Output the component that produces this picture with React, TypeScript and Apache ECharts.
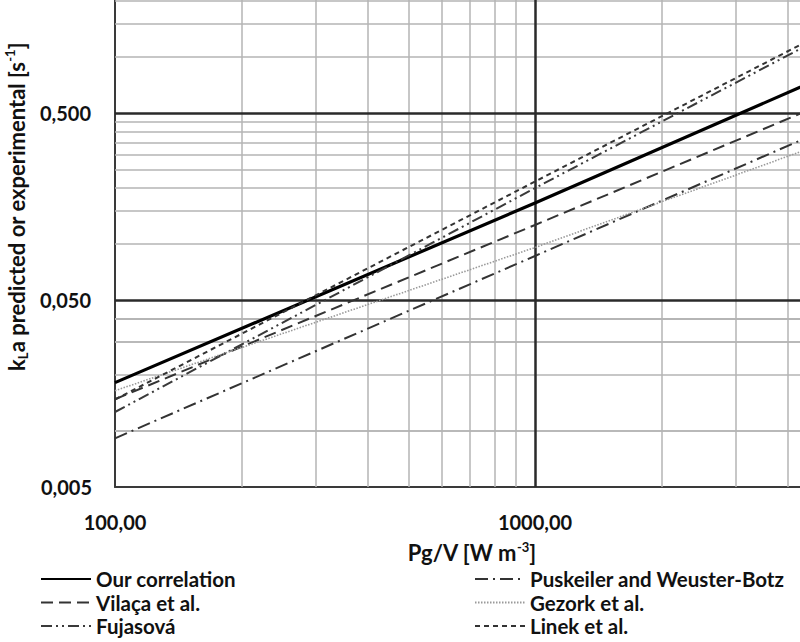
import React, { useEffect, useRef } from "react";
import * as echarts from "echarts";

// Pg/V values where each correlation is read (W m-3)
const xPoints = [100, 1000, 5000];
// kLa values (s-1) at xPoints
const ourCorrelation = [0.0181, 0.1656, 0.804];
const vilaca = [0.01474, 0.1263, 0.577];
const fujasova = [0.0126, 0.199, 1.33];
const puskeiler = [0.00911, 0.0862, 0.417];
const gezork = [0.01638, 0.0957, 0.353];
const linek = [0.0147, 0.2158, 1.392];

const seriesNames = [
  "Our correlation",
  "Vilaça et al.",
  "Fujasová",
  "Puskeiler and Weuster-Botz",
  "Gezork et al.",
  "Linek et al.",
];

// axis ranges / ticks
const xMin = 100;
const xMax = 5000;
const yMin = 0.005;
const yMax = 5;
const yMajor = [0.05, 0.5];
const yMajorLabels = ["0,050", "0,500"];
const yBottomLabel = "0,005";
const xMajor = [1000];
const yDecadeBases = [0.005, 0.05, 0.5];
const xDecadeBases = [100, 1000];
const multipliers = [2, 3, 4, 5, 6, 7, 8, 9];

const FONT = 'Lato, "DejaVu Sans", sans-serif';

export default function App() {
  const ref = useRef<HTMLDivElement>(null);

  useEffect(() => {
    if (!ref.current) return;
    const chart = echarts.init(ref.current, null, { renderer: "svg" });

    const yMinor: number[] = [];
    yDecadeBases.forEach((b) =>
      multipliers.forEach((m) => {
        const v = +(b * m).toPrecision(6);
        if (v < yMax) yMinor.push(v);
      })
    );
    const xMinor: number[] = [];
    xDecadeBases.forEach((b) =>
      multipliers.forEach((m) => {
        const v = b * m;
        if (v < xMax) xMinor.push(v);
      })
    );

    const minorStyle = { color: "#b4b4b4", width: 1.5, type: "solid" as const };
    const majorStyle = { color: "#2a2a2a", width: 2.5, type: "solid" as const };
    const labelStyle = {
      fontFamily: FONT,
      fontWeight: "bold" as const,
      fontSize: 20,
      color: "#111",
    };
    const titleStyle = { ...labelStyle, fontSize: 22 };

    const mk = (name: string, vals: number[], lineStyle: any) => ({
      type: "line",
      name,
      data: xPoints.map((x, i) => [x, vals[i]]),
      symbol: "none",
      showSymbol: false,
      silent: true,
      z: 5,
      lineStyle,
      itemStyle: { color: lineStyle.color },
    });

    const legendCommon = {
      orient: "vertical",
      top: 568,
      padding: 0,
      itemWidth: 50,
      itemHeight: 14,
      itemGap: 1.5,
      height: 80,
      textStyle: { ...labelStyle, fontSize: 20.5, lineHeight: 22 },
      itemStyle: { color: "transparent", opacity: 0, borderWidth: 0 },
      selectedMode: false,
    };

    const option: any = {
      animation: false,
      backgroundColor: "#ffffff",
      grid: {
        left: 115,
        top: -73.5,
        width: 713.6,
        height: 560.5,
        containLabel: false,
        outerBoundsMode: "none",
      },
      xAxis: {
        type: "log",
        logBase: 10,
        min: xMin,
        max: xMax,
        name: "Pg/V [W m{sup|-3}]",
        nameLocation: "middle",
        nameGap: 53,
        nameTextStyle: {
          ...titleStyle,
          lineHeight: 24,
          rich: {
            sup: { ...titleStyle, fontSize: 13, verticalAlign: "top", lineHeight: 24 },
          },
        },
        axisLine: { show: true, lineStyle: { color: "#3a3a3a", width: 2 } },
        axisTick: { show: false },
        splitLine: { show: false },
        minorSplitLine: { show: false },
        axisLabel: {
          ...labelStyle,
          margin: 25,
          showMaxLabel: false,
          formatter: (v: number) => v.toFixed(2).replace(".", ","),
        },
      },
      yAxis: {
        type: "log",
        logBase: 10,
        min: yMin,
        max: yMax,
        name: "k{sub|L}a predicted or experimental [s{sup|-1}]",
        nameLocation: "middle",
        nameGap: 86,
        nameRotate: 90,
        nameTextStyle: {
          ...titleStyle,
          lineHeight: 26,
          rich: {
            sub: { ...titleStyle, fontSize: 13, verticalAlign: "bottom", lineHeight: 26 },
            sup: { ...titleStyle, fontSize: 13, verticalAlign: "top", lineHeight: 26 },
          },
        },
        axisLine: { show: true, lineStyle: { color: "#3a3a3a", width: 2 } },
        axisTick: { show: false },
        splitLine: { show: false },
        axisLabel: {
          ...labelStyle,
          show: true,
          margin: 23,
          showMinLabel: true,
          showMaxLabel: false,
          formatter: (v: number) => (Math.abs(v - yMin) < 1e-9 ? yBottomLabel : ""),
        },
      },
      legend: [
        { ...legendCommon, left: 40, data: seriesNames.slice(0, 3) },
        { ...legendCommon, left: 474, data: seriesNames.slice(3) },
      ],
      series: [
        {
          type: "line",
          name: "grid",
          data: [],
          silent: true,
          z: 1,
          markLine: {
            silent: true,
            symbol: ["none", "none"],
            animation: false,
            label: { show: false },
            data: [
              ...yMinor.map((v) => ({ yAxis: v, lineStyle: minorStyle })),
              ...xMinor.map((v) => ({ xAxis: v, lineStyle: minorStyle })),
            ],
          },
        },
        {
          type: "line",
          name: "gridMajor",
          data: [],
          silent: true,
          z: 2,
          markLine: {
            silent: true,
            symbol: ["none", "none"],
            animation: false,
            data: [
              ...yMajor.map((v, i) => ({
                yAxis: v,
                lineStyle: majorStyle,
                label: {
                  show: true,
                  position: "start",
                  distance: 24,
                  formatter: yMajorLabels[i],
                  ...labelStyle,
                },
              })),
              ...xMajor.map((v) => ({
                xAxis: v,
                lineStyle: majorStyle,
                label: { show: false },
              })),
            ],
          },
        },
        mk(seriesNames[0], ourCorrelation, { color: "#000000", width: 3.2, type: "solid" }),
        mk(seriesNames[1], vilaca, { color: "#333333", width: 2, type: [12, 6] }),
        mk(seriesNames[2], fujasova, { color: "#3a3a3a", width: 2, type: [11, 4, 2, 4, 2, 4] }),
        mk(seriesNames[3], puskeiler, { color: "#333333", width: 2, type: [13, 5, 2, 5] }),
        mk(seriesNames[4], gezork, { color: "#9a9a9a", width: 1.6, type: [1.5, 1.5] }),
        mk(seriesNames[5], linek, { color: "#333333", width: 2, type: [5, 4] }),
      ],
    };

    chart.setOption(option);
    return () => chart.dispose();
  }, []);

  return (
    <div
      ref={ref}
      style={{ position: "absolute", left: 0, top: 0, width: 800, height: 642, background: "#fff" }}
    />
  );
}
